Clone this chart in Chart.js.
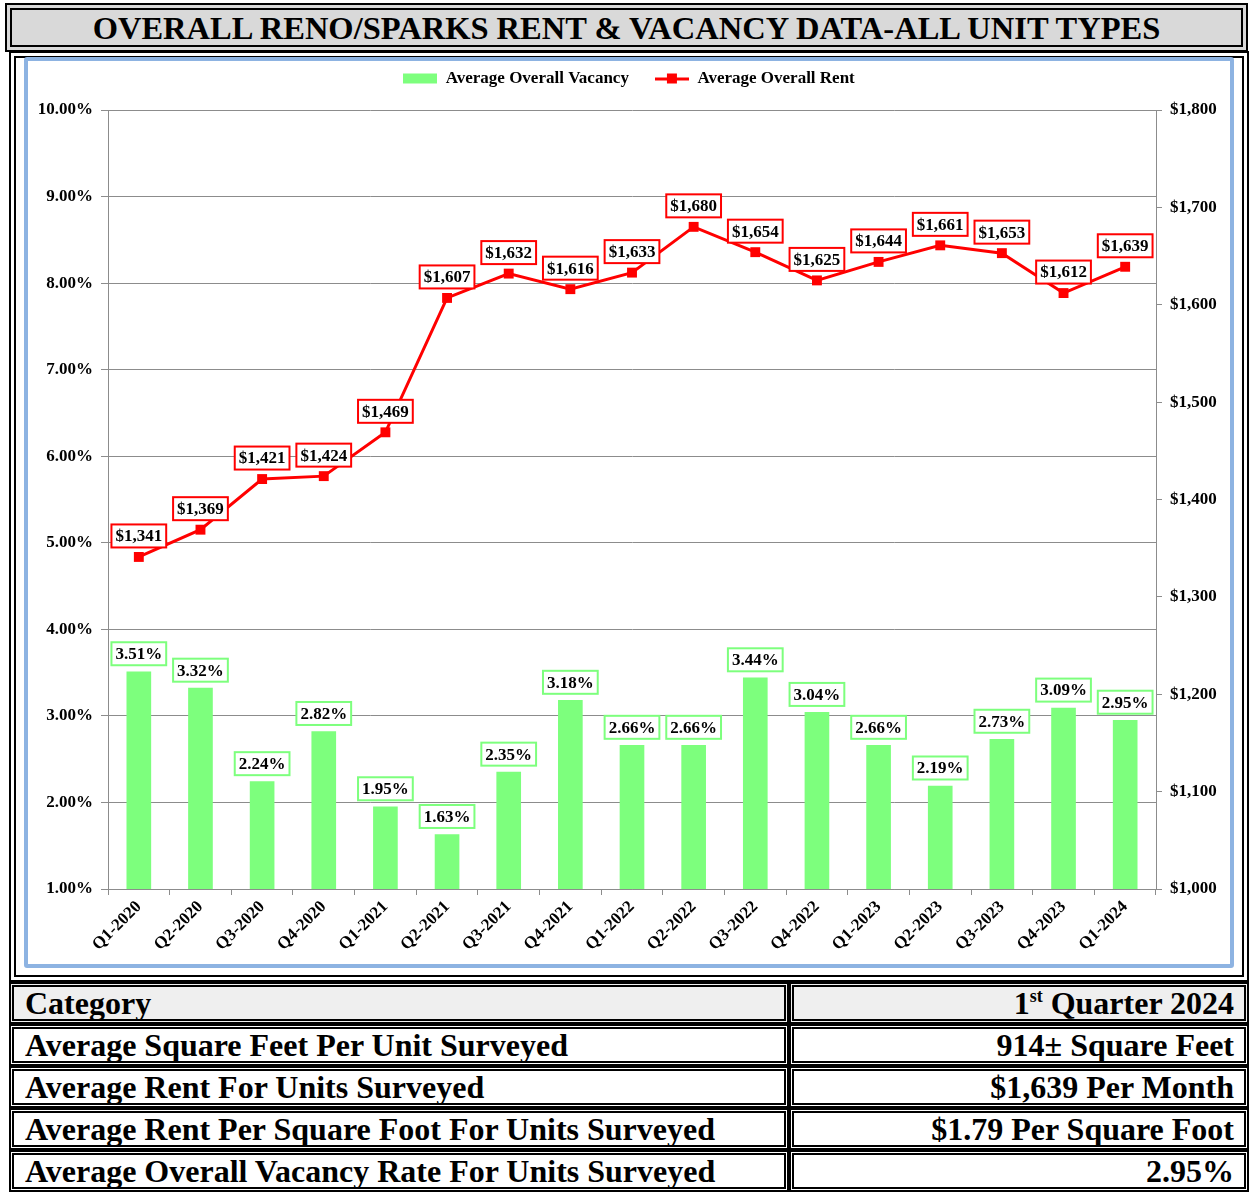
<!DOCTYPE html>
<html>
<head>
<meta charset="utf-8">
<script src="https://cdn.jsdelivr.net/npm/chart.js@4"></script>
<style>
  html, body { margin: 0; padding: 0; background: #fff; }
  body { width: 1250px; height: 1194px; position: relative; overflow: hidden;
         font-family: "Liberation Serif", "Times New Roman", serif; }
  .frame { position: absolute; box-sizing: border-box; border: 7px double #000; }
  #title { left: 5px; top: 3px; width: 1243px; height: 49px; background: #d9d9d9;
           font-weight: bold; font-size: 32.5px; text-align: center; line-height: 36px; }
  #chart-frame { left: 9px; top: 51px; width: 1240px; height: 931px; }
  #blue { position: absolute; left: 24px; top: 57px; width: 1210px; height: 911px;
          box-sizing: border-box; border: 4px solid #8db3e2; border-radius: 3px; }
  #chart-wrap { position: absolute; left: 28px; top: 61px; width: 1202px; height: 903px; }
  table { position: absolute; left: 9px; top: 982px; width: 1240px; border-collapse: separate;
          border-spacing: 0; }
  td { border: 5px double #000; height: 32px; padding: 0 10px 0 11px; font-weight: bold;
       font-size: 32px; line-height: 32px; white-space: nowrap; }
  td.r { text-align: right; width: 429px; }
  tr.head td { background: #efefef; }
  sup { font-size: 18px; line-height: 0; vertical-align: 12px; }
</style>
</head>
<body>
<div id="title" class="frame">OVERALL RENO/SPARKS RENT &amp; VACANCY DATA-ALL UNIT TYPES</div>
<div id="chart-frame" class="frame"></div>
<div id="blue"></div>
<div id="chart-wrap"><canvas id="chart"></canvas></div>
<table>
  <tr class="head"><td>Category</td><td class="r">1<sup>st</sup> Quarter 2024</td></tr>
  <tr><td>Average Square Feet Per Unit Surveyed</td><td class="r">914± Square Feet</td></tr>
  <tr><td>Average Rent For Units Surveyed</td><td class="r">$1,639 Per Month</td></tr>
  <tr><td>Average Rent Per Square Foot For Units Surveyed</td><td class="r">$1.79 Per Square Foot</td></tr>
  <tr><td>Average Overall Vacancy Rate For Units Surveyed</td><td class="r">2.95%</td></tr>
</table>
<script>
const QUARTERS = [
  'Q1-2020', 'Q2-2020', 'Q3-2020', 'Q4-2020',
  'Q1-2021', 'Q2-2021', 'Q3-2021', 'Q4-2021',
  'Q1-2022', 'Q2-2022', 'Q3-2022', 'Q4-2022',
  'Q1-2023', 'Q2-2023', 'Q3-2023', 'Q4-2023',
  'Q1-2024',
];
const VACANCY = [3.51, 3.32, 2.24, 2.82, 1.95, 1.63, 2.35, 3.18, 2.66, 2.66, 3.44, 3.04, 2.66, 2.19, 2.73, 3.09, 2.95];
const RENT = [1341, 1369, 1421, 1424, 1469, 1607, 1632, 1616, 1633, 1680, 1654, 1625, 1644, 1661, 1653, 1612, 1639];
const VACANCY_TICKS = [1, 2, 3, 4, 5, 6, 7, 8, 9, 10];
const RENT_TICKS = [1000, 1100, 1200, 1300, 1400, 1500, 1600, 1700, 1800];

const FONT = '"Liberation Serif", "Times New Roman", serif';
const GREEN = '#7dff7d';
const RED = '#ff0000';
const GRID = '#8c8c8c';

const money = (v) => '$' + Number(v).toLocaleString('en-US');
const pct = (v) => Number(v).toFixed(2) + '%';

// little canvases used as legend icons
function legendIcon(kind) {
  const c = document.createElement('canvas');
  c.width = 34;
  c.height = 12;
  const g = c.getContext('2d');
  if (kind === 'bar') {
    g.fillStyle = GREEN;
    g.fillRect(0, 1, 34, 10);
  } else {
    g.fillStyle = RED;
    g.fillRect(0, 5, 34, 3);
    g.fillRect(12, 1, 10, 10);
  }
  return c;
}

// boxed value labels above the points and bars
const boxLabels = {
  id: 'boxLabels',
  afterDatasetsDraw(chart) {
    const ctx = chart.ctx;
    ctx.save();
    ctx.font = 'bold 17px ' + FONT;
    ctx.textAlign = 'center';
    ctx.textBaseline = 'middle';
    chart.data.datasets.forEach((ds, i) => {
      const meta = chart.getDatasetMeta(i);
      const isLine = ds.type === 'line';
      meta.data.forEach((el, j) => {
        const txt = isLine ? money(ds.data[j]) : pct(ds.data[j]);
        const w = ctx.measureText(txt).width + 8;
        const h = 23;
        const cy = el.y - (isLine ? 21 : 18);
        ctx.fillStyle = '#fff';
        ctx.fillRect(el.x - w / 2, cy - h / 2, w, h);
        ctx.lineWidth = 2;
        ctx.strokeStyle = isLine ? RED : GREEN;
        ctx.strokeRect(el.x - w / 2, cy - h / 2, w, h);
        ctx.fillStyle = '#000';
        ctx.fillText(txt, el.x, cy + 1);
      });
    });
    ctx.restore();
  },
};

// keep the legend band a fixed height so the plot top lands where it should
const legendHeight = {
  id: 'legendHeight',
  beforeLayout(chart) {
    const lg = chart.legend;
    if (lg && !lg._fixed) {
      const fit = lg.fit;
      lg.fit = function () {
        fit.call(this);
        this.height = 49;
      };
      lg._fixed = true;
    }
  },
};

new Chart(document.getElementById('chart'), {
  type: 'bar',
  data: {
    labels: QUARTERS,
    datasets: [
      {
        type: 'line',
        label: 'Average Overall Rent',
        data: RENT,
        yAxisID: 'y1',
        borderColor: RED,
        backgroundColor: RED,
        borderWidth: 3,
        pointStyle: 'rect',
        pointRadius: 7,
        pointBackgroundColor: RED,
        pointBorderWidth: 0,
        tension: 0,
        order: 0,
      },
      {
        type: 'bar',
        label: 'Average Overall Vacancy',
        data: VACANCY,
        yAxisID: 'y',
        backgroundColor: GREEN,
        barThickness: 24,
        order: 1,
      },
    ],
  },
  options: {
    responsive: true,
    maintainAspectRatio: false,
    animation: false,
    layout: { padding: { top: 0, bottom: 9, left: 0, right: 0 } },
    plugins: {
      tooltip: { enabled: false },
      legend: {
        position: 'top',
        reverse: true,
        labels: {
          usePointStyle: true,
          pointStyleWidth: 34,
          padding: 9,
          color: '#000',
          font: { family: FONT, size: 17, weight: 'bold' },
          generateLabels: (chart) => chart.data.datasets.map((ds, i) => ({
            text: ds.type === 'line' ? ds.label : ds.label + '\u00a0\u00a0\u00a0\u00a0',
            pointStyle: legendIcon(ds.type === 'line' ? 'line' : 'bar'),
            datasetIndex: i,
            fontColor: '#000',
            lineWidth: 0,
          })),
        },
      },
    },
    scales: {
      x: {
        offset: true,
        grid: { offset: true, drawOnChartArea: false, color: GRID, tickLength: 6 },
        border: { color: GRID },
        ticks: {
          autoSkip: false,
          maxRotation: 45,
          minRotation: 45,
          color: '#000',
          padding: 2,
          font: { family: FONT, size: 17, weight: 'bold' },
        },
        afterFit: (s) => { s.height = 66; },
      },
      y: {
        position: 'left',
        min: 1,
        max: 10,
        afterBuildTicks: (s) => { s.ticks = VACANCY_TICKS.map((v) => ({ value: v })); },
        grid: { color: GRID, tickLength: 7 },
        border: { color: GRID },
        ticks: {
          color: '#000',
          padding: 8,
          font: { family: FONT, size: 17, weight: 'bold' },
          callback: (v) => pct(v),
        },
        afterFit: (s) => { s.width = 80; },
      },
      y1: {
        position: 'right',
        min: 1000,
        max: 1800,
        afterBuildTicks: (s) => { s.ticks = RENT_TICKS.map((v) => ({ value: v })); },
        grid: { drawOnChartArea: false, color: GRID, tickLength: 6 },
        border: { color: GRID },
        ticks: {
          color: '#000',
          padding: 8,
          font: { family: FONT, size: 17, weight: 'bold' },
          callback: (v) => money(v),
        },
        afterFit: (s) => { s.width = 74; },
      },
    },
  },
  plugins: [boxLabels, legendHeight],
});
</script>
</body>
</html>
